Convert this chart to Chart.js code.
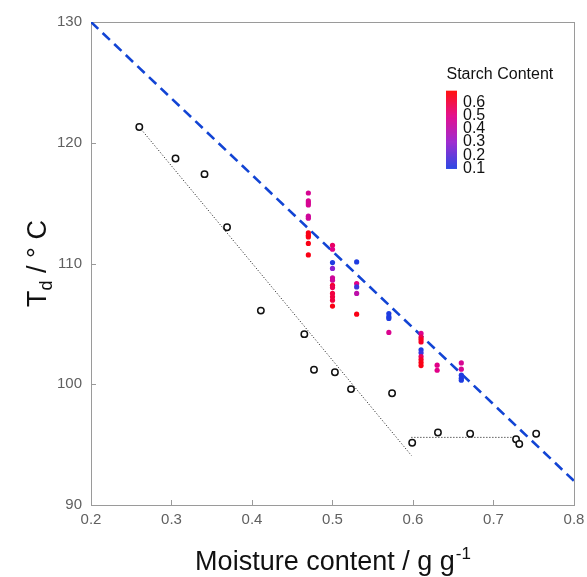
<!DOCTYPE html>
<html>
<head>
<meta charset="utf-8">
<script src="https://cdn.jsdelivr.net/npm/chart.js@4.4.0/dist/chart.umd.min.js"></script>
<style>
  html, body { margin: 0; padding: 0; background: #fff; }
</style>
</head>
<body>
<canvas id="myChart" width="587" height="577"></canvas>
<script>
const FONT = 'Arial, "Liberation Sans", sans-serif';

// open circles + the two dotted guide segments
const dryX = [0.26, 0.305, 0.341, 0.369, 0.411, 0.465, 0.477, 0.503, 0.523, 0.574, 0.599, 0.631, 0.671, 0.728, 0.732, 0.753];
const dryY = [121.3, 118.7, 117.4, 113.0, 106.1, 104.15, 101.2, 101.0, 99.6, 99.25, 95.15, 96.0, 95.9, 95.45, 95.05, 95.9];

const slopeX = [0.26, 0.598];
const slopeY = [121.3, 94.1];
const flatX = [0.598, 0.728];
const flatY = [95.6, 95.6];

// blue dashed line
const fitX = [0.2, 0.8];
const fitY = [130, 92];

// coloured points: moisture, Td, starch content
const starchX = [
  0.47, 0.47, 0.47, 0.47, 0.47, 0.47, 0.47, 0.47, 0.47, 0.47, 0.47,
  0.50, 0.50, 0.50, 0.50, 0.50, 0.50, 0.50, 0.50, 0.50, 0.50, 0.50, 0.50,
  0.53, 0.53, 0.53, 0.53, 0.53,
  0.57, 0.57, 0.57, 0.57,
  0.61, 0.61, 0.61, 0.61, 0.61, 0.61, 0.61, 0.61, 0.61, 0.61,
  0.63, 0.63,
  0.66, 0.66, 0.66, 0.66, 0.66
];
const starchY = [
  115.84, 115.18, 115.02, 114.85, 113.92, 113.75, 112.53, 112.34, 112.2, 111.66, 110.71,
  111.51, 111.18, 110.08, 109.59, 108.81, 108.62, 108.2, 108.01, 107.52, 107.24, 106.96, 106.47,
  110.13, 108.34, 108.06, 107.52, 105.8,
  105.86, 105.6, 105.45, 104.29,
  104.21, 103.9, 103.7, 103.5, 102.85, 102.6, 102.3, 102.05, 101.8, 101.55,
  101.58, 101.16,
  101.77, 101.25, 100.75, 100.5, 100.33
];
const starchC = [
  0.47, 0.47, 0.47, 0.47, 0.45, 0.45, 0.66, 0.66, 0.66, 0.66, 0.66,
  0.55, 0.5, 0.1, 0.28, 0.45, 0.45, 0.62, 0.57, 0.6, 0.6, 0.6, 0.66,
  0.1, 0.5, 0.15, 0.4, 0.66,
  0.1, 0.1, 0.1, 0.48,
  0.48, 0.58, 0.64, 0.64, 0.1, 0.15, 0.56, 0.64, 0.66, 0.66,
  0.5, 0.5,
  0.47, 0.47, 0.1, 0.1, 0.1
];

const xTicks = [0.2, 0.3, 0.4, 0.5, 0.6, 0.7, 0.8];
const yTicks = [90, 100, 110, 120, 130];
const cbTicks = [0.6, 0.5, 0.4, 0.3, 0.2, 0.1];
const cbMin = 0.1, cbMax = 0.69;

// blue -> purple -> magenta -> red
const cmap = [
  [0.1, [30, 60, 225]],
  [0.3, [150, 30, 205]],
  [0.5, [225, 0, 135]],
  [0.69, [255, 0, 0]]
];
function starchColor(v) {
  if (v <= cmap[0][0]) return 'rgb(' + cmap[0][1].join(',') + ')';
  for (let i = 1; i < cmap.length; i++) {
    if (v <= cmap[i][0]) {
      const a = cmap[i - 1], b = cmap[i];
      const t = (v - a[0]) / (b[0] - a[0]);
      const c = a[1].map((ch, k) => Math.round(ch + (b[1][k] - ch) * t));
      return 'rgb(' + c.join(',') + ')';
    }
  }
  return 'rgb(' + cmap[cmap.length - 1][1].join(',') + ')';
}

const pts = (xs, ys) => xs.map((x, i) => ({ x: x, y: ys[i] }));

const decorations = {
  id: 'decorations',
  beforeDatasetsDraw(chart) {
    const { ctx, chartArea: a, scales } = chart;
    ctx.save();
    ctx.strokeStyle = '#9a9a9a';
    ctx.lineWidth = 1;
    ctx.strokeRect(Math.round(a.left) + 0.5, Math.round(a.top) + 0.5,
      Math.round(a.right - a.left), Math.round(a.bottom - a.top));
    ctx.beginPath();
    yTicks.forEach(v => {
      const y = Math.round(scales.y.getPixelForValue(v)) + 0.5;
      ctx.moveTo(a.left, y); ctx.lineTo(a.left + 5, y);
    });
    xTicks.forEach(v => {
      const x = Math.round(scales.x.getPixelForValue(v)) + 0.5;
      ctx.moveTo(x, a.bottom); ctx.lineTo(x, a.bottom - 5);
    });
    ctx.stroke();
    ctx.restore();
  },
  afterDraw(chart) {
    const { ctx, chartArea: a } = chart;
    ctx.save();
    ctx.fillStyle = '#111';

    // x title with superscript
    const mainX = 'Moisture content / g g';
    const supX = '-1';
    ctx.font = '27px ' + FONT;
    const w1 = ctx.measureText(mainX).width;
    ctx.font = '17px ' + FONT;
    const w2 = ctx.measureText(supX).width;
    const cx = (a.left + a.right) / 2;
    let sx = cx - (w1 + w2) / 2;
    ctx.textBaseline = 'alphabetic';
    ctx.textAlign = 'left';
    ctx.font = '27px ' + FONT;
    ctx.fillText(mainX, sx, 570);
    ctx.font = '17px ' + FONT;
    ctx.fillText(supX, sx + w1 + 1, 559);

    // y title with subscript, rotated
    const cy = (a.top + a.bottom) / 2;
    ctx.translate(46, cy);
    ctx.rotate(-Math.PI / 2);
    ctx.font = '27px ' + FONT;
    const tW = ctx.measureText('T').width;
    const rest = ' / \u00B0 C';
    const rW = ctx.measureText(rest).width;
    ctx.font = '18px ' + FONT;
    const dW = ctx.measureText('d').width;
    let ty = -(tW + dW + rW) / 2;
    ctx.font = '27px ' + FONT;
    ctx.fillText('T', ty, 0);
    ctx.font = '18px ' + FONT;
    ctx.fillText('d', ty + tW, 6);
    ctx.font = '27px ' + FONT;
    ctx.fillText(rest, ty + tW + dW, 0);
    ctx.setTransform(1, 0, 0, 1, 0, 0);

    // colour bar
    const bx = 446, bw = 11, bTop = 90.7, bBot = 168.3;
    for (let y = bTop; y < bBot; y += 1) {
      const v = cbMin + (bBot - y) / (bBot - bTop) * (cbMax - cbMin);
      ctx.fillStyle = starchColor(v);
      ctx.fillRect(bx, y, bw, 1.2);
    }
    ctx.fillStyle = '#111';
    ctx.font = '16px ' + FONT;
    ctx.textBaseline = 'middle';
    ctx.fillText('Starch Content', 446.5, 75);
    cbTicks.forEach(v => {
      const y = bBot - (v - cbMin) / (cbMax - cbMin) * (bBot - bTop);
      ctx.fillText(v.toFixed(1), 463, y);
    });
    ctx.restore();
  }
};

new Chart(document.getElementById('myChart').getContext('2d'), {
  type: 'scatter',
  data: {
    datasets: [
      {
        data: pts(starchX, starchY),
        backgroundColor: starchC.map(starchColor),
        borderWidth: 0,
        pointRadius: 2.6,
        order: 0
      },
      {
        data: pts(dryX, dryY),
        backgroundColor: '#ffffff',
        borderColor: '#111111',
        borderWidth: 1.5,
        pointRadius: 3.2,
        order: 1
      },
      {
        data: pts(fitX, fitY),
        showLine: true,
        pointRadius: 0,
        borderColor: '#1244d4',
        borderWidth: 2.6,
        borderDash: [10, 6],
        order: 2
      },
      {
        data: pts(slopeX, slopeY),
        showLine: true,
        pointRadius: 0,
        borderColor: '#111111',
        borderWidth: 1,
        borderDash: [1, 2],
        order: 3
      },
      {
        data: pts(flatX, flatY),
        showLine: true,
        pointRadius: 0,
        borderColor: '#111111',
        borderWidth: 1,
        borderDash: [1, 2],
        order: 3
      }
    ]
  },
  options: {
    responsive: false,
    animation: false,
    layout: { padding: { top: 22, right: 0, left: 0, bottom: 0 } },
    plugins: {
      legend: { display: false },
      tooltip: { enabled: false }
    },
    scales: {
      x: {
        type: 'linear',
        min: 0.2,
        max: 0.8,
        grid: { display: false, drawTicks: false },
        border: { display: false },
        afterBuildTicks: s => { s.ticks = xTicks.map(v => ({ value: v })); },
        afterFit: s => { s.height = 72; s.paddingRight = 13; s.paddingLeft = 0; },
        ticks: {
          padding: 6,
          color: '#606060',
          font: { family: FONT, size: 15 },
          callback: v => v.toFixed(1)
        }
      },
      y: {
        type: 'linear',
        min: 90,
        max: 130,
        grid: { display: false, drawTicks: false },
        border: { display: false },
        afterBuildTicks: s => { s.ticks = yTicks.map(v => ({ value: v })); },
        afterFit: s => { s.width = 91; },
        ticks: {
          padding: 9,
          color: '#606060',
          font: { family: FONT, size: 15 },
          callback: v => String(v)
        }
      }
    }
  },
  plugins: [decorations]
});
</script>
</body>
</html>
